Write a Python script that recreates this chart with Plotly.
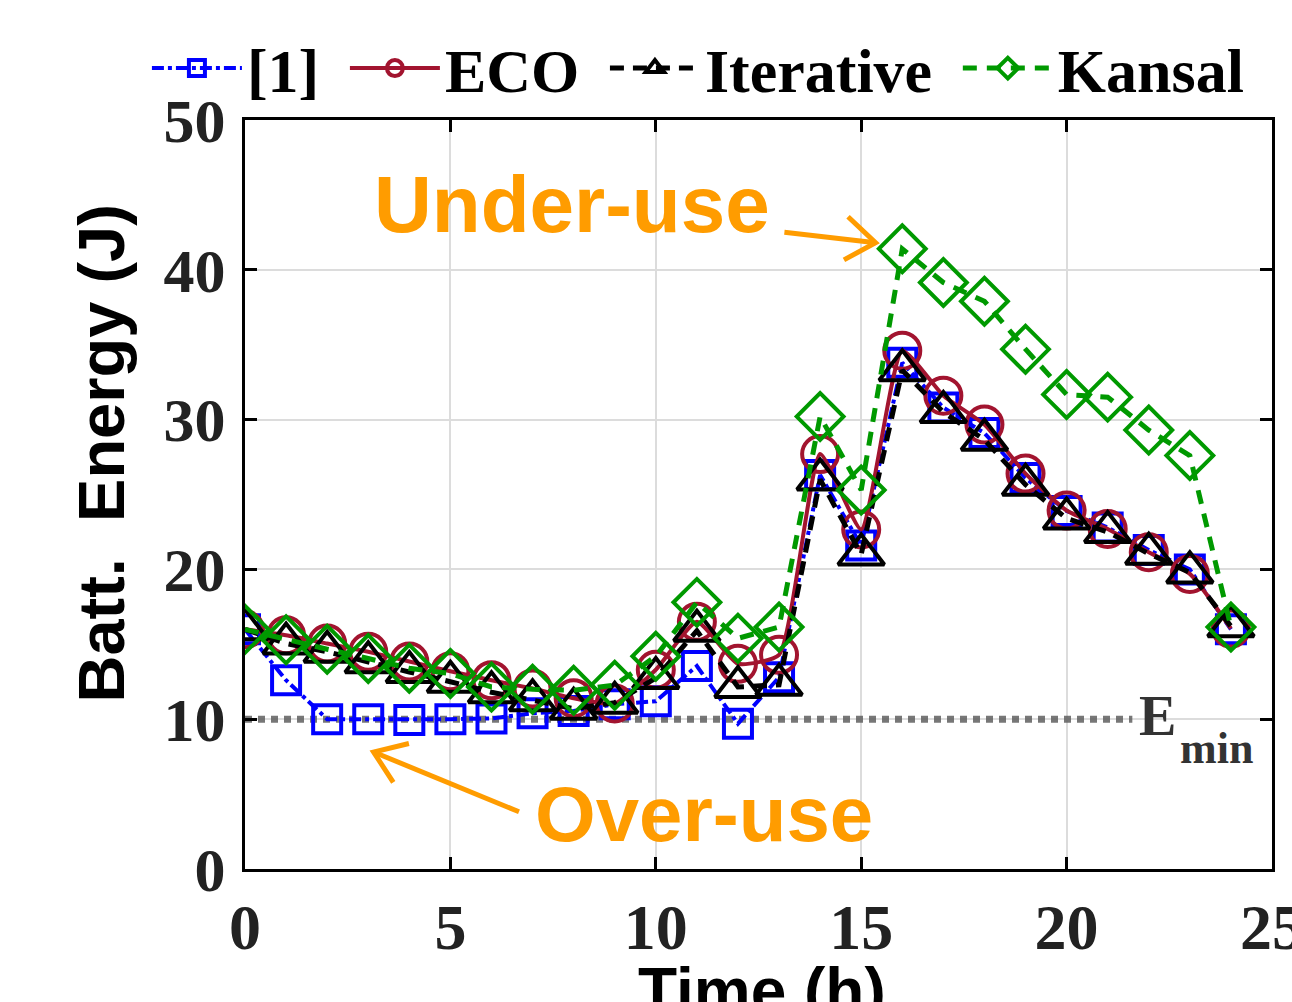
import plotly.graph_objects as go

hours = list(range(25))
ref1 = [16.0, 12.6, 10.0, 10.0, 9.95, 10.0, 10.05, 10.4, 10.55, 11.0, 11.2, 13.55, 9.7, 12.8,
        26.3, 21.6, 33.8, 30.8, 29.1, 26.1, 23.9, 22.8, 21.3, 20.0, 16.0]
eco = [16.0, 15.6, 15.05, 14.5, 13.85, 13.2, 12.6, 12.05, 11.4, 11.05, 13.3, 16.5, 13.7, 14.3,
       27.7, 22.67, 34.6, 31.6, 29.67, 26.4, 23.93, 22.7, 21.15, 19.7, 16.05]
iterative = [16.0, 15.05, 14.5, 13.8, 13.15, 12.5, 11.8, 11.27, 10.7, 11.1, 12.75, 15.9, 12.15, 12.3,
             26.0, 21.0, 33.3, 30.5, 28.65, 25.65, 23.4, 22.5, 21.05, 19.8, 16.2]
kansal = [16.0, 15.3, 14.67, 14.05, 13.4, 13.05, 12.15, 12.0, 11.93, 12.27, 14.2, 17.8, 15.4, 16.15,
          30.2, 25.3, 41.4, 39.15, 37.9, 34.7, 31.67, 31.5, 29.3, 27.6, 16.15]
e_min = 10
emin_x = [0, 21.6]

x_ticks = [0, 5, 10, 15, 20, 25]
y_ticks = [0, 10, 20, 30, 40, 50]

ORANGE = "#FF9C00"
SERIF = "Liberation Serif"
SANS = "Liberation Sans"
GAP = "\u00a0\u200a"

fig = go.Figure()

fig.add_trace(go.Scatter(
    x=emin_x, y=[e_min, e_min], mode="lines", showlegend=False, hoverinfo="skip",
    line=dict(color="rgba(95,95,95,0.85)", width=7, dash="7px,6px")))

fig.add_trace(go.Scatter(
    x=hours, y=ref1, name="[1]" + GAP, mode="lines+markers",
    line=dict(color="#0000FF", width=4, dash="dashdot"),
    marker=dict(symbol="square-open", size=28, color="#0000FF", line=dict(width=4, color="#0000FF"))))
fig.add_trace(go.Scatter(
    x=hours, y=eco, name="ECO" + GAP, mode="lines+markers",
    line=dict(color="#A2142F", width=4, shape="spline", smoothing=0.5),
    marker=dict(symbol="circle-open", size=36, color="#A2142F", line=dict(width=4, color="#A2142F"))))
fig.add_trace(go.Scatter(
    x=hours, y=iterative, name="Iterative" + GAP, mode="lines+markers",
    line=dict(color="#000000", width=5, dash="14px,9px"),
    marker=dict(symbol="triangle-up-open", size=40, color="#000000", line=dict(width=4, color="#000000"))))
fig.add_trace(go.Scatter(
    x=hours, y=kansal, name="Kansal", mode="lines+markers",
    line=dict(color="#009900", width=5, dash="14px,10px"),
    marker=dict(symbol="diamond-open", size=36, color="#009900", line=dict(width=4, color="#009900"))))

annotations = [
    dict(x=7.96, y=44.33, xref="x", yref="y", text="Under-use", showarrow=False,
         font=dict(family=SANS, size=80, color=ORANGE, weight="bold"), xanchor="center", yanchor="middle"),
    dict(x=11.17, y=3.67, xref="x", yref="y", text="Over-use", showarrow=False,
         font=dict(family=SANS, size=78, color=ORANGE, weight="bold"), xanchor="center", yanchor="middle"),
    dict(x=21.71, y=10.2, xref="x", yref="y", text="E", showarrow=False,
         font=dict(family=SERIF, size=56, color="#333333", weight="bold"), xanchor="left", yanchor="middle"),
    dict(x=22.71, y=8.07, xref="x", yref="y", text="min", showarrow=False,
         font=dict(family=SERIF, size=44, color="#333333", weight="bold"), xanchor="left", yanchor="middle"),
    dict(x=-0.14, y=0.555, xref="paper", yref="paper", text="Batt.  Energy (J)", showarrow=False,
         textangle=-90, font=dict(family=SANS, size=65, color="#000000", weight="bold"),
         xanchor="center", yanchor="middle"),
    dict(x=0.503, y=-0.112, xref="paper", yref="paper", text="Time (h)", showarrow=False,
         font=dict(family=SANS, size=64, color="#000000", weight="bold"),
         xanchor="center", yanchor="top"),
]

arrow = dict(color=ORANGE, width=5)
shapes = [
    dict(type="line", xref="x", yref="y", x0=13.13, y0=42.50, x1=15.35, y1=41.81, line=arrow),
    dict(type="path", xref="x", yref="y", path="M14.68,43.54 L15.35,41.81 L14.58,40.66", line=arrow),
    dict(type="line", xref="x", yref="y", x0=6.67, y0=3.82, x1=3.13, y1=7.81, line=arrow),
    dict(type="path", xref="x", yref="y", path="M3.99,8.38 L3.13,7.81 L3.61,5.78", line=arrow),
]

axis_common = dict(
    showline=True, linecolor="#000000", linewidth=3, mirror="ticks",
    ticks="inside", ticklen=12, tickwidth=3, tickcolor="#000000",
    showgrid=True, gridcolor="#DCDCDC", gridwidth=2, zeroline=False,
    ticklabeloverflow="allow", automargin=False,
)

fig.update_layout(
    width=1292, height=1002,
    margin=dict(l=245, r=20, t=120, b=133, autoexpand=False),
    paper_bgcolor="white", plot_bgcolor="white",
    xaxis=dict(range=[0, 25], tickvals=x_ticks, ticklabelstandoff=0,
               tickfont=dict(family=SERIF, size=64, color="#222222", weight="bold"), **axis_common),
    yaxis=dict(range=[0, 50], tickvals=y_ticks, ticklabelstandoff=4,
               tickfont=dict(family=SERIF, size=62, color="#222222", weight="bold"), **axis_common),
    legend=dict(orientation="h", x=-0.0955, y=1.069, xanchor="left", yanchor="middle",
                font=dict(family=SERIF, size=62, color="#000000", weight="bold"),
                itemwidth=90, bgcolor="rgba(0,0,0,0)", tracegroupgap=0, itemsizing="trace"),
    annotations=annotations, shapes=shapes,
    showlegend=True,
)

fig.write_html(
    "out.html",
    config={"displayModeBar": False},
    post_script="document.body.style.margin='0';document.body.style.overflow='hidden';"
                "document.documentElement.style.overflow='hidden';",
)
